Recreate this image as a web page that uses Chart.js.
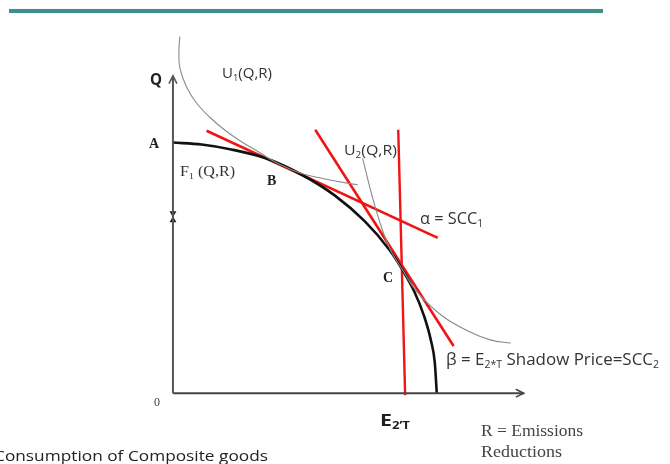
<!DOCTYPE html>
<html>
<head>
<meta charset="utf-8">
<script src="https://cdn.jsdelivr.net/npm/chart.js@4/dist/chart.umd.min.js"></script>
<style>
    body { margin: 0; background: #fff; }
    #wrap { position: relative; width: 670px; height: 464px; overflow: hidden; }
    #rule { position: absolute; left: 9px; top: 9px; width: 594px; height: 4px; background: #3f8f8c; box-shadow: 0 0 1px #9cc8c6; }
    canvas { position: absolute; left: 0; top: 0; }
</style>
</head>
<body>
<div id="wrap">
    <div id="rule"></div>
    <canvas id="ppfChart" width="670" height="464"></canvas>
</div>
<script>
// R = emissions reductions (x), Q = composite goods (y)
const ppfR = [0, 29, 59, 94, 129, 164, 194, 219, 232, 244, 254, 261, 265, 267];
const ppfQ = [255, 253, 248, 239, 223, 201, 175, 146, 126, 104, 79, 54, 31, 0];

const u1R = [7, 6, 7, 14, 24, 37, 52, 69, 86, 102, 129, 159, 187];
const u1Q = [363, 348, 331, 311, 295, 281, 268, 256, 246, 236, 224, 217, 212];

const u2R = [192, 202, 212, 221, 232, 247, 272, 299, 322, 342];
const u2Q = [239, 199, 166, 144, 126, 103, 79, 63, 54, 51];

const alphaR = [34, 268];
const alphaQ = [267, 158];

const betaR = [144, 284];
const betaQ = [268, 48];

const e2tR = [228, 235];
const e2tQ = [268, -2];

const qAxisR = [0, 0];
const qAxisQ = [0, 323];
const qArrowR = [-4, 0, 4];
const qArrowQ = [315, 323, 315];

const rAxisR = [0, 355];
const rAxisQ = [0, 0];
const rArrowR = [347, 355, 347];
const rArrowQ = [4, 0, -4];

const markR = [0, 0];
const markQ = [183, 176];

function pts(xs, ys) {
    return xs.map((x, i) => ({ x: x, y: ys[i] }));
}

function lineSet(xs, ys, color, width, mode) {
    return {
        data: pts(xs, ys),
        showLine: true,
        borderColor: color,
        borderWidth: width,
        pointRadius: 0,
        fill: false,
        cubicInterpolationMode: mode === 'monotone' ? 'monotone' : 'default',
        tension: mode === 'curve' ? 0.4 : 0
    };
}

// draws text made of pieces, some of them subscripts
function drawPieces(ctx, pieces, x, y, font, size, weight, color, width) {
    ctx.save();
    ctx.fillStyle = color;
    ctx.textBaseline = 'alphabetic';
    let total = 0;
    pieces.forEach(p => {
        const s = p.sub ? size * 0.62 : size;
        ctx.font = `${weight} ${s}px ${font}`;
        total += ctx.measureText(p.t).width;
    });
    const sx = width ? width / total : 1;
    ctx.translate(x, y + size * 0.35);
    ctx.scale(sx, 1);
    let cx = 0;
    pieces.forEach(p => {
        const s = p.sub ? size * 0.62 : size;
        ctx.font = `${weight} ${s}px ${font}`;
        ctx.fillText(p.t, cx, p.sub ? size * 0.22 : 0);
        cx += ctx.measureText(p.t).width;
    });
    ctx.restore();
}

const SANS = '"Open Sans", "Liberation Sans", sans-serif';
const SERIF = '"Liberation Serif", "DejaVu Serif", serif';

const labelPlugin = {
    id: 'labels',
    afterDraw(chart) {
        const ctx = chart.ctx;
        const T = (t, sub) => ({ t: t, sub: !!sub });
        drawPieces(ctx, [T('Q')], 150, 79, SANS, 16, 'bold', '#222', 12);
        drawPieces(ctx, [T('U'), T('1', 1), T('(Q,R)')], 222, 73, SANS, 14, 'normal', '#333', 50);
        drawPieces(ctx, [T('A')], 149, 143, SERIF, 14, 'bold', '#222');
        drawPieces(ctx, [T('F'), T('1', 1), T(' (Q,R)')], 180, 171, SERIF, 14, 'normal', '#333', 55);
        drawPieces(ctx, [T('B')], 267, 180, SERIF, 14, 'bold', '#222');
        drawPieces(ctx, [T('U'), T('2', 1), T('(Q,R)')], 344, 150, SANS, 14, 'normal', '#333', 53);
        drawPieces(ctx, [T('\u03b1'), T(' = SCC'), T('1', 1)], 420, 218, SANS, 16, 'normal', '#333', 63);
        drawPieces(ctx, [T('C')], 383, 277, SERIF, 14, 'bold', '#222');
        drawPieces(ctx, [T('\u03b2'), T(' = E'), T('2*T', 1), T(' Shadow Price=SCC'), T('2', 1)], 446, 359, SANS, 16, 'normal', '#333', 213);
        drawPieces(ctx, [T('0')], 154, 402, SERIF, 12, 'normal', '#444');
        drawPieces(ctx, [T('E'), T('2\u2019T', 1)], 380, 420, SANS, 16, 'bold', '#222', 30);
        drawPieces(ctx, [T('R = Emissions')], 481, 430, SERIF, 16, 'normal', '#444', 102);
        drawPieces(ctx, [T('Reductions')], 481, 451, SERIF, 16, 'normal', '#444', 81);
        drawPieces(ctx, [T('Consumption of Composite goods')], -6, 456, SANS, 15, 'normal', '#222', 274);
    }
};

function buildDiagram() {
    const datasets = [
        lineSet(u1R, u1Q, '#8a8a8a', 1.1, 'curve'),
        lineSet(u2R, u2Q, '#8a8a8a', 1.1, 'curve'),
        lineSet(qAxisR, qAxisQ, '#555', 2, 'straight'),
        lineSet(qArrowR, qArrowQ, '#555', 1.6, 'straight'),
        lineSet(rAxisR, rAxisQ, '#444', 2, 'straight'),
        lineSet(rArrowR, rArrowQ, '#444', 1.6, 'straight'),
        lineSet(ppfR, ppfQ, '#111', 2.6, 'monotone'),
        lineSet(alphaR, alphaQ, '#f01414', 2.6, 'straight'),
        lineSet(betaR, betaQ, '#f01414', 2.6, 'straight'),
        lineSet(e2tR, e2tQ, '#f01414', 2.4, 'straight'),
        {
            data: pts(markR, markQ),
            showLine: false,
            pointStyle: 'triangle',
            pointRadius: 4,
            rotation: [180, 0],
            backgroundColor: '#222',
            borderColor: '#222',
            borderWidth: 0
        }
    ];

    const ctx = document.getElementById('ppfChart').getContext('2d');
    new Chart(ctx, {
        type: 'scatter',
        data: { datasets: datasets },
        options: {
            responsive: false,
            animation: false,
            layout: { padding: 0 },
            plugins: { legend: { display: false }, tooltip: { enabled: false } },
            scales: {
                x: { type: 'linear', display: false, min: -171, max: 499 },
                y: { type: 'linear', display: false, min: -68, max: 396 }
            }
        },
        plugins: [labelPlugin]
    });
}

document.addEventListener('DOMContentLoaded', buildDiagram);
</script>
</body>
</html>
